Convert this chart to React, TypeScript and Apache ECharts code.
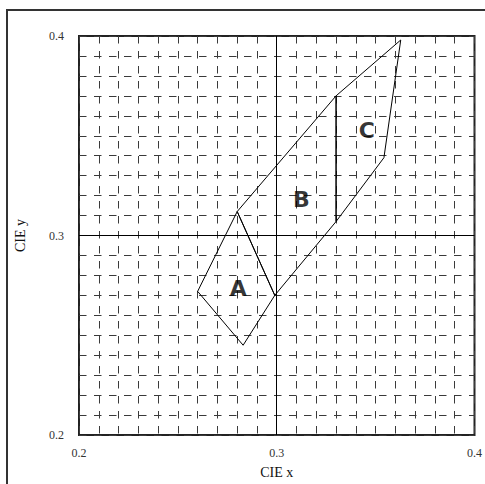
import React, { useEffect, useRef } from "react";
import * as echarts from "echarts";

const regionA: [number, number][] = [
  [0.28, 0.312],
  [0.26, 0.272],
  [0.283, 0.245],
  [0.299, 0.27],
];
const regionB: [number, number][] = [
  [0.28, 0.312],
  [0.33, 0.37],
  [0.33, 0.307],
  [0.299, 0.27],
];
const regionC: [number, number][] = [
  [0.33, 0.37],
  [0.3627, 0.398],
  [0.3542, 0.339],
  [0.33, 0.307],
];
const regionLabels: { name: string; value: [number, number] }[] = [
  { name: "A", value: [0.2805, 0.2734] },
  { name: "B", value: [0.3125, 0.318] },
  { name: "C", value: [0.3455, 0.3524] },
];
const majorTicks = [0.2, 0.3, 0.4];
const axisMin = 0.2;
const axisMax = 0.4;
const gridStep = 0.01;
const xTitle = "CIE x";
const yTitle = "CIE y";

const closed = (pts: [number, number][]) => [...pts, pts[0]];

const isMajor = (v: number) =>
  majorTicks.some((t) => Math.abs(t - v) < 1e-6);

export default function App() {
  const ref = useRef<HTMLDivElement>(null);
  useEffect(() => {
    if (!ref.current) return;
    const chart = echarts.init(ref.current, null, { renderer: "svg" });
    const serif = "'Liberation Serif', 'Times New Roman', serif";
    const splitLine = {
      show: true,
      lineStyle: { color: "#3a3a3a", width: 1, type: [7.5, 7.5] as any, dashOffset: 0 },
    };
    const polyStyle = {
      type: "line" as const,
      symbol: "none",
      lineStyle: { color: "#000", width: 1 },
      silent: true,
    };
    chart.setOption({
      animation: false,
      backgroundColor: "#fff",
      graphic: [
        {
          type: "rect",
          shape: { x: 7, y: 10, width: 700, height: 700 },
          style: { fill: "none", stroke: "#333", lineWidth: 2 },
          z: 0,
        },
      ],
      grid: {
        left: 79,
        top: 36,
        width: 400,
        height: 403,
        show: true,
        borderColor: "#222",
        borderWidth: 2,
        backgroundColor: "transparent",
      },
      xAxis: {
        type: "value",
        min: axisMin,
        max: axisMax,
        interval: gridStep,
        name: xTitle,
        nameLocation: "middle",
        nameGap: 30,
        nameTextStyle: { fontFamily: serif, fontSize: 14, color: "#111" },
        axisLine: { show: false },
        axisTick: { show: false },
        axisLabel: {
          fontFamily: serif,
          fontSize: 12,
          color: "#333",
          margin: 12,
          showMinLabel: true,
          showMaxLabel: true,
          formatter: (v: number) => (isMajor(v) ? v.toFixed(1) : ""),
        },
        splitLine,
      },
      yAxis: {
        type: "value",
        min: axisMin,
        max: axisMax,
        interval: gridStep,
        name: yTitle,
        nameLocation: "middle",
        nameGap: 52,
        nameRotate: 90,
        nameTextStyle: { fontFamily: serif, fontSize: 14, color: "#111" },
        axisLine: { show: false },
        axisTick: { show: false },
        axisLabel: {
          fontFamily: serif,
          fontSize: 12,
          color: "#333",
          margin: 15,
          showMinLabel: true,
          showMaxLabel: true,
          formatter: (v: number) => (isMajor(v) ? v.toFixed(1) : ""),
        },
        splitLine,
      },
      series: [
        {
          type: "line",
          data: [],
          silent: true,
          markLine: {
            symbol: "none",
            silent: true,
            label: { show: false },
            lineStyle: { color: "#000", width: 1, type: "solid" },
            data: [{ xAxis: 0.3 }, { yAxis: 0.3 }],
          },
        },
        { ...polyStyle, data: closed(regionA) },
        { ...polyStyle, data: closed(regionB) },
        { ...polyStyle, data: closed(regionC) },
        {
          type: "scatter",
          symbolSize: 0,
          silent: true,
          data: regionLabels.map((d) => ({ name: d.name, value: d.value })),
          label: {
            show: true,
            position: "inside",
            formatter: (p: any) => p.name,
            fontFamily: "'DejaVu Sans', sans-serif",
            fontWeight: "bold",
            fontSize: 22,
            color: "#000",
          },
        },
      ],
    });
    return () => chart.dispose();
  }, []);
  return (
    <div
      ref={ref}
      style={{ position: "fixed", left: 0, top: 0, width: 485, height: 484 }}
    />
  );
}
